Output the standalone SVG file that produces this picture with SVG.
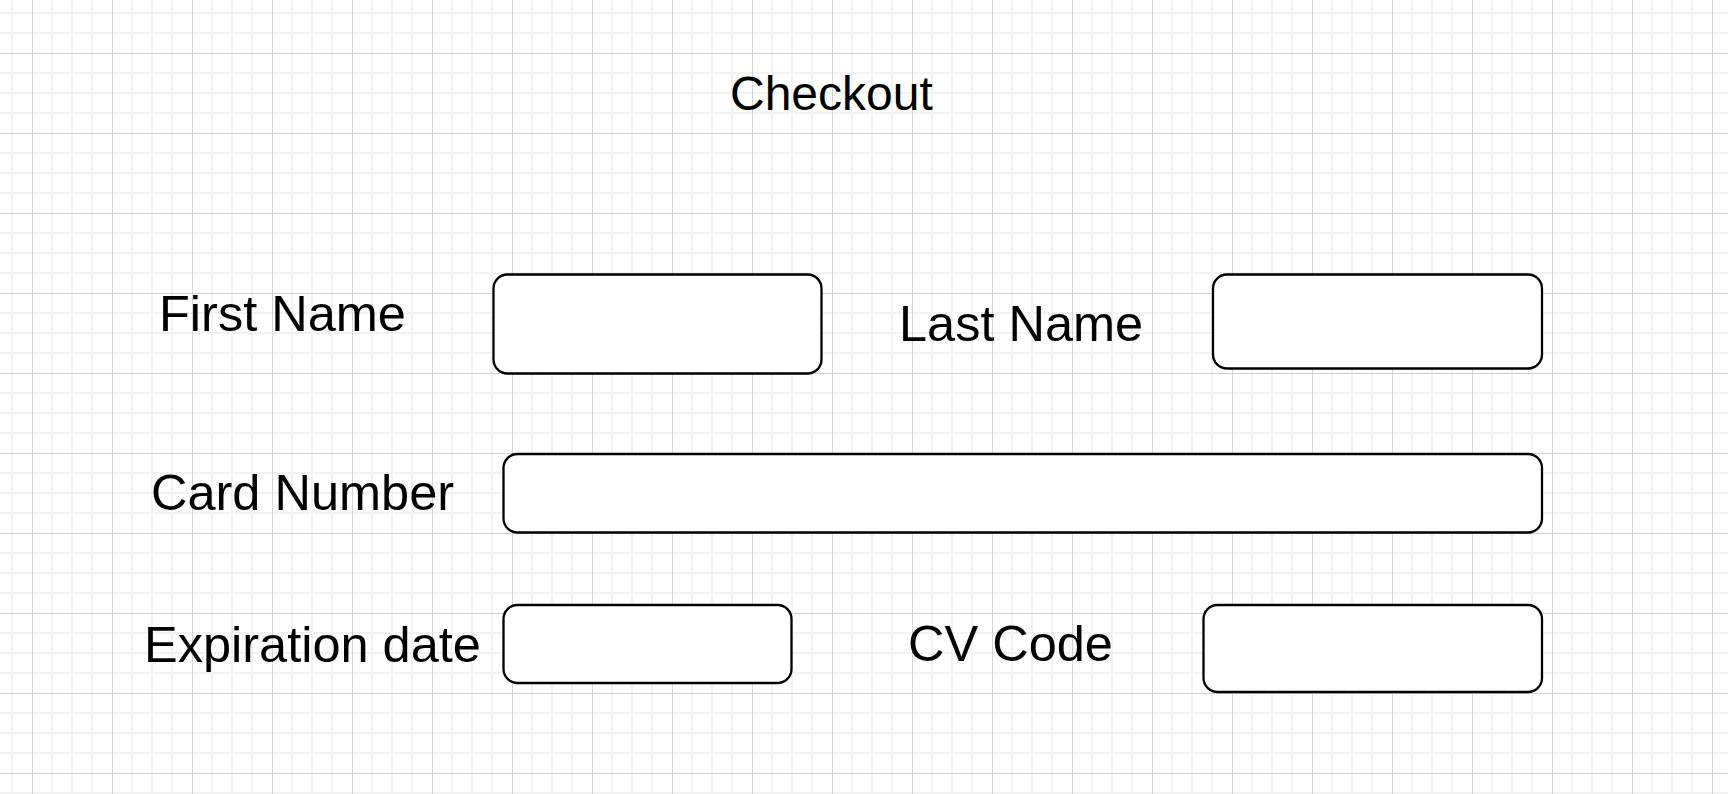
<svg xmlns="http://www.w3.org/2000/svg" width="1728" height="794" viewBox="0 0 1728 794">
  <defs>
    <pattern id="grid" patternUnits="userSpaceOnUse" x="32" y="53" width="80" height="80">
      <g stroke="#f2f2f2" stroke-width="2" fill="none">
        <line x1="20" y1="0" x2="20" y2="80"/>
        <line x1="40" y1="0" x2="40" y2="80"/>
        <line x1="60" y1="0" x2="60" y2="80"/>
        <line x1="0" y1="20" x2="80" y2="20"/>
        <line x1="0" y1="40" x2="80" y2="40"/>
        <line x1="0" y1="60" x2="80" y2="60"/>
      </g>
      <g stroke="#d0d0d0" stroke-width="1.2" fill="none">
        <line x1="0.3" y1="0" x2="0.3" y2="80"/>
        <line x1="0" y1="0.3" x2="80" y2="0.3"/>
      </g>
    </pattern>
    <style>
      .field { fill: #ffffff; stroke: #000000; stroke-width: 2.3; }
      .lbl { font-family: "Liberation Sans", Arial, Helvetica, sans-serif; font-size: 50.5px; fill: #000000; }
      .title { font-family: "Liberation Sans", Arial, Helvetica, sans-serif; font-size: 48px; fill: #000000; }
    </style>
  </defs>
  <rect x="0" y="0" width="1728" height="794" fill="#ffffff"/>
  <rect x="0" y="0" width="1728" height="794" fill="url(#grid)"/>

  <g id="connectors"/>

  <g id="title"><text class="title" x="730" y="110">Checkout</text></g>

  <g id="first-name-label"><text class="lbl" x="159" y="331">First Name</text></g>
  <g id="first-name-field"><rect class="field" x="493.5" y="274.5" width="328" height="99" rx="14" ry="14"/></g>

  <g id="last-name-label"><text class="lbl" x="899" y="341">Last Name</text></g>
  <g id="last-name-field"><rect class="field" x="1213" y="274.5" width="329" height="94" rx="14" ry="14"/></g>

  <g id="card-number-label"><text class="lbl" x="151" y="510">Card Number</text></g>
  <g id="card-number-field"><rect class="field" x="503.5" y="454" width="1038.5" height="78.5" rx="14" ry="14"/></g>

  <g id="expiration-label"><text class="lbl" x="144" y="662">Expiration date</text></g>
  <g id="expiration-field"><rect class="field" x="503.5" y="605" width="288" height="78" rx="14" ry="14"/></g>

  <g id="cv-code-label"><text class="lbl" x="908" y="661">CV Code</text></g>
  <g id="cv-code-field"><rect class="field" x="1203.5" y="605" width="338.5" height="87" rx="14" ry="14"/></g>
</svg>
